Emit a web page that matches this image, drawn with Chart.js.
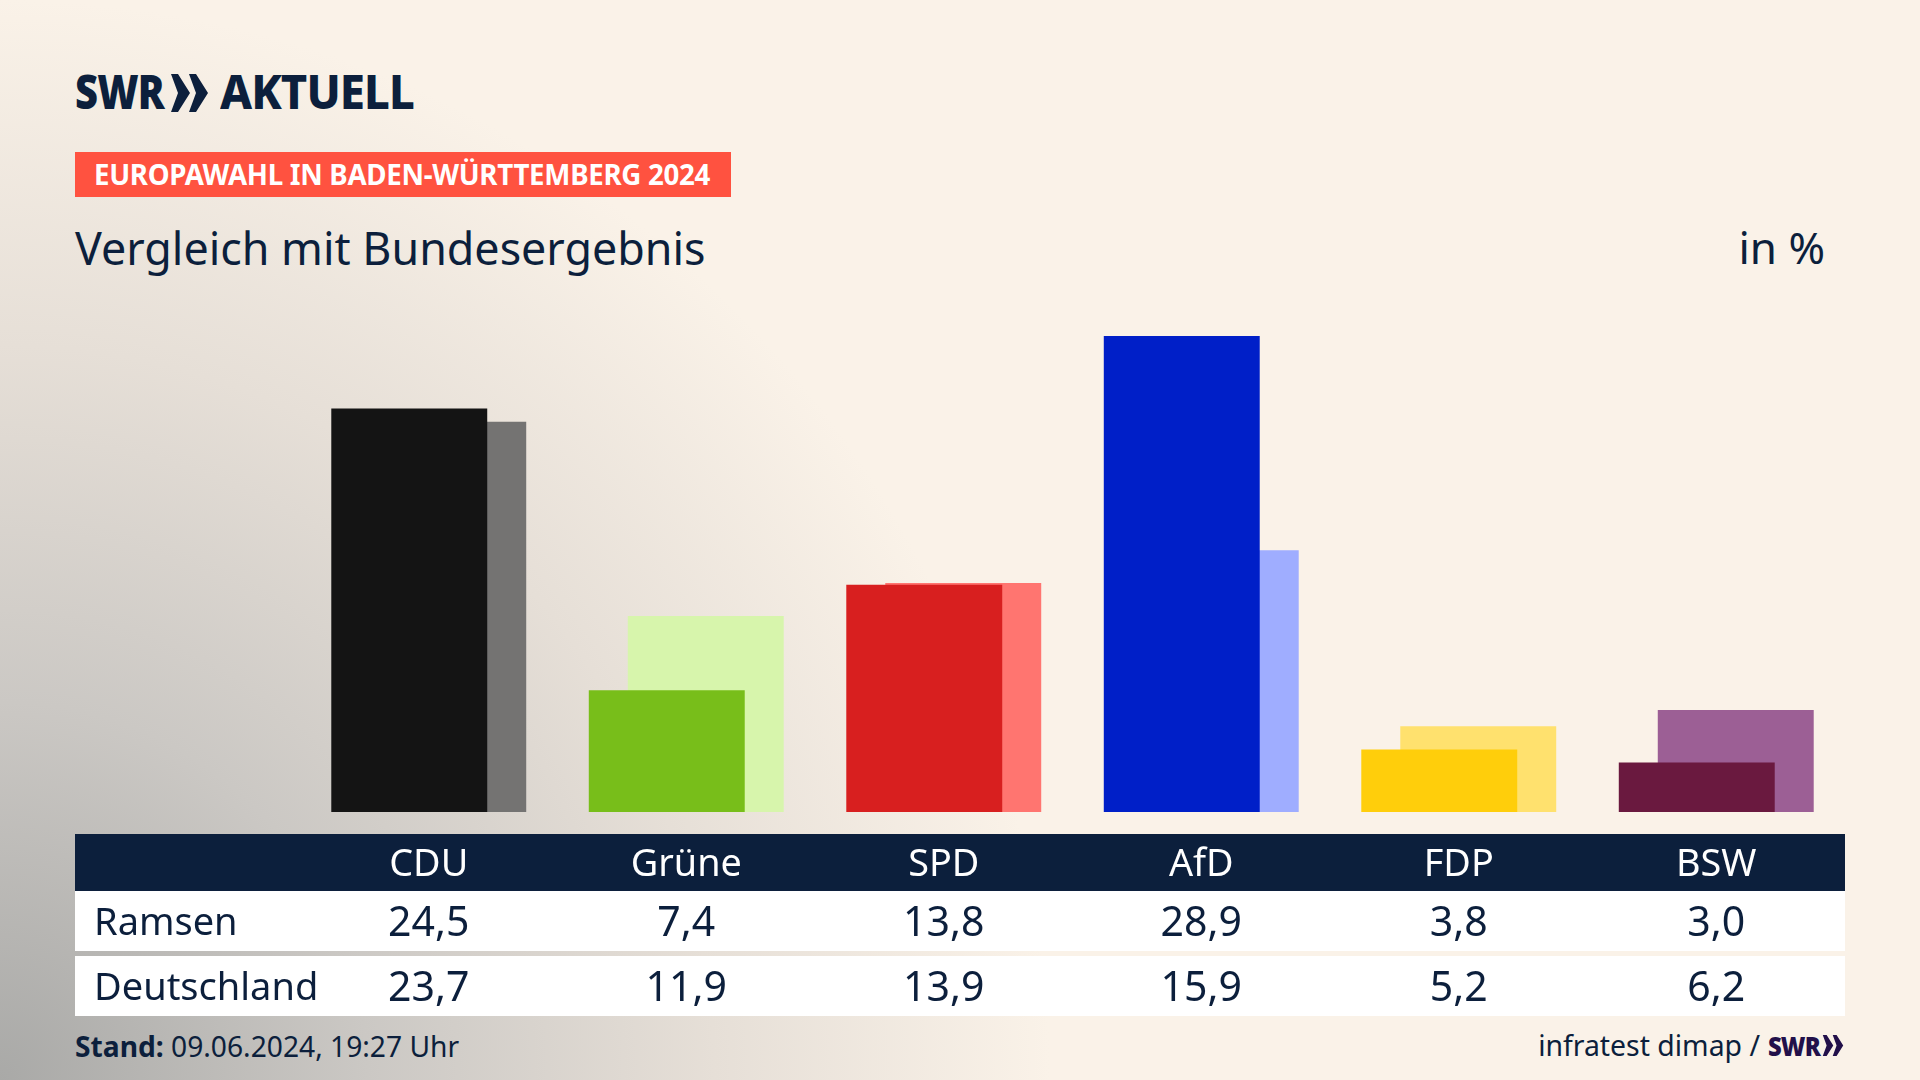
<!DOCTYPE html>
<html lang="de"><head><meta charset="utf-8">
<script src="https://cdn.jsdelivr.net/npm/chart.js@4/dist/chart.umd.min.js"></script>
<style>
html,body{margin:0;padding:0;width:1920px;height:1080px;overflow:hidden}
body{position:relative;font-family:"Noto Sans",sans-serif;color:#0c1f3c;
background:radial-gradient(ellipse 1050px 1080px at 0 100%,#a9a9a7 0%,#cbc8c4 35%,#e6dfd7 68%,#faf2e8 100%),#faf2e8}
.a{position:absolute;white-space:nowrap;line-height:1}
#c{position:absolute;left:0;top:0;z-index:2}
.band{position:absolute;left:75px;width:1770px}
.cell{position:absolute;transform:translateX(-50%);white-space:nowrap;line-height:1;font-size:41px;z-index:3}
</style></head><body>
<div class="band" style="top:834px;height:57px;background:#0c1f3c"></div>
<div class="band" style="top:891px;height:60px;background:#fff"></div>
<div class="band" style="top:956px;height:60px;background:#fff"></div>

<div class="a" style="left:75px;top:67px;font-size:48px;font-weight:900;letter-spacing:-1px;transform:scaleX(.83);transform-origin:0 0">SWR</div>
<svg class="a" style="left:171px;top:74px" width="37" height="38" viewBox="0 0 37 38"><polygon fill="#0c1f3c" points="0,0 7,0 19,19 7,38 0,38 7,19"/><polygon fill="#0c1f3c" points="18,0 25,0 37,19 25,38 18,38 25,19"/></svg>
<div class="a" style="left:220px;top:67px;font-size:48px;font-weight:800;letter-spacing:-1px;transform:scaleX(.945);transform-origin:0 0">AKTUELL</div>

<div class="a" style="left:75px;top:152px;width:656px;height:45px;background:#ff5240"></div>
<div class="a" style="left:94px;top:161px;font-size:27.7px;font-weight:700;color:#fff;letter-spacing:-.3px">EUROPAWAHL IN BADEN-WÜRTTEMBERG 2024</div>
<div class="a" style="left:75px;top:226px;font-size:44.8px">Vergleich mit Bundesergebnis</div>
<div class="a" style="right:95px;top:225px;font-size:44px">in %</div>

<div class="a" style="left:75px;top:1032px;font-size:28.2px"><b>Stand:</b> 09.06.2024, 19:27 Uhr</div>
<div class="a" style="right:160px;top:1031px;font-size:28.4px">infratest dimap /</div>
<div class="a" style="left:1768px;top:1032px;font-size:27px;font-weight:900;color:#22104a;letter-spacing:-1px;transform:scaleX(.88);transform-origin:0 0">SWR</div>
<svg class="a" style="left:1822px;top:1035px" width="22" height="21" viewBox="0 0 37 38"><polygon fill="#22104a" points="0,0 7,0 19,19 7,38 0,38 7,19"/><polygon fill="#22104a" points="18,0 25,0 37,19 25,38 18,38 25,19"/></svg>

<canvas id="c" width="1920" height="1080"></canvas>
<script>
const categories = ["CDU","Grüne","SPD","AfD","FDP","BSW"];
const ramsen = [24.5,7.4,13.8,28.9,3.8,3.0];
const deutschland = [23.7,11.9,13.9,15.9,5.2,6.2];
const ramsenColors = ["#141414","#78be1a","#d81f1f","#001fc8","#ffce0b","#6a193f"];
const deutschlandColors = ["#747372","#d7f5ac","#ff7570","#9fadff","#ffe16e","#9c5f95"];
const rowNames = ["Ramsen","Deutschland"];
const rowTops = [900,965];

const chart = new Chart(document.getElementById("c"),{
  type:"bar",
  data:{labels:categories,datasets:[
    {label:"Ramsen",data:ramsen,backgroundColor:ramsenColors,order:1,borderWidth:0},
    {label:"Deutschland",data:deutschland,backgroundColor:deutschlandColors,order:2,borderWidth:0}
  ]},
  options:{
    responsive:false,animation:false,
    devicePixelRatio:1,
    layout:{padding:{left:300,right:75,top:318,bottom:0}},
    datasets:{bar:{categoryPercentage:78/257.6,barPercentage:4}},
    plugins:{legend:{display:false},tooltip:{enabled:false},title:{display:false}},
    scales:{
      x:{grid:{display:false,drawBorder:false},border:{display:false},
         afterFit(s){s.height=268;},
         ticks:{color:"#fff",padding:23,maxRotation:0,autoSkip:false,font:{family:'"Noto Sans",sans-serif',size:37.8}}},
      y:{display:false,min:0,max:30}
    }
  }
});
const fmt=v=>v.toFixed(1).replace(".",",");
[ramsen,deutschland].forEach((row,r)=>{
  const n=document.createElement("div");
  n.className="a";n.style.cssText=`left:94px;top:${rowTops[r]+1}px;font-size:38px;z-index:3`;
  n.textContent=rowNames[r];document.body.appendChild(n);
  row.forEach((v,i)=>{
    const d=document.createElement("div");d.className="cell";
    d.style.left=chart.scales.x.getPixelForValue(i)+"px";d.style.top=rowTops[r]+"px";
    d.textContent=fmt(v);document.body.appendChild(d);
  });
});
</script>
</body></html>
